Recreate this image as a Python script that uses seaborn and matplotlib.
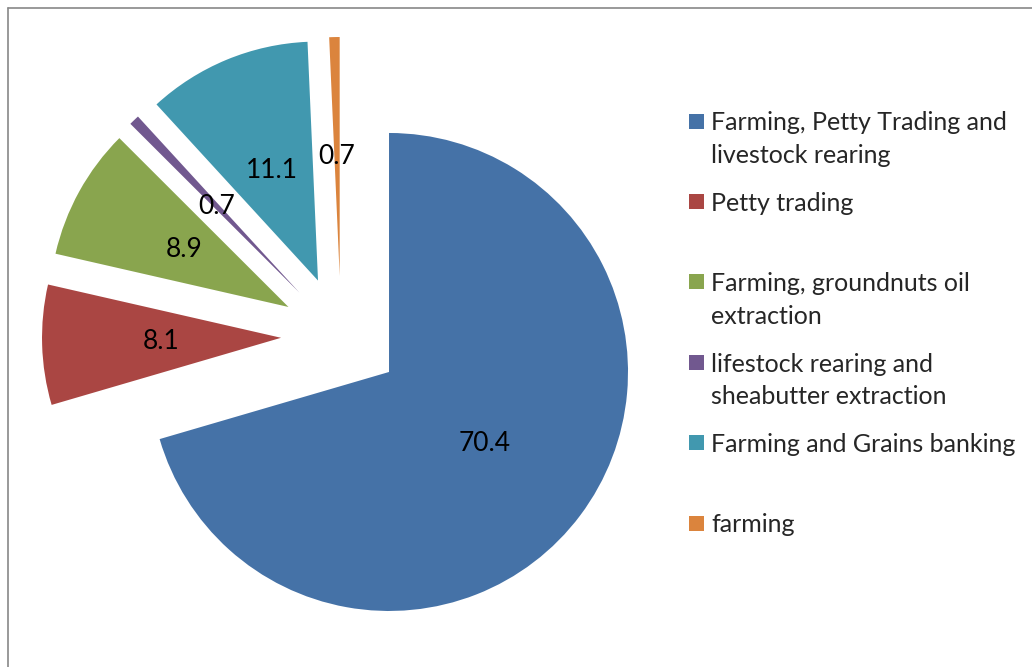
import matplotlib.pyplot as plt
import matplotlib.patches as mpatches
import seaborn as sns

# data
categories = [
    "Farming, Petty Trading and\nlivestock rearing",
    "Petty trading",
    "Farming, groundnuts oil\nextraction",
    "lifestock rearing and\nsheabutter extraction",
    "Farming and Grains banking",
    "farming",
]
values = [70.4, 8.1, 8.9, 0.7, 11.1, 0.7]
colors = ["#4572A7", "#AA4643", "#89A54E", "#71588F", "#4198AF", "#DB843D"]

sns.set_style("white")
plt.rcParams["font.family"] = ["Lato", "DejaVu Sans"]

W, H = 1032, 667
fig = plt.figure(figsize=(W / 100, H / 100), dpi=100)
ax = fig.add_axes([0, 0, 1, 1])

total = sum(values)
ax.pie(
    values,
    colors=colors,
    startangle=90,
    counterclock=False,
    center=(341, H - 336),
    radius=239,
    explode=[60] * len(values),
    autopct=lambda p: f"{p * total / 100:.1f}",
    pctdistance=0.5,
    wedgeprops=dict(linewidth=0),
    textprops=dict(fontsize=19, color="black"),
)
ax.set_xlim(0, W)
ax.set_ylim(0, H)
ax.set_aspect("equal")
ax.axis("off")

# legend drawn by hand (Excel style spacing)
for i, (lab, col) in enumerate(zip(categories, colors)):
    yc = 121 + 80.4 * i
    ax.add_patch(mpatches.Rectangle((689, H - yc - 7.5), 15, 15, color=col, lw=0))
    for j, line in enumerate(lab.split("\n")):
        ax.text(711, H - yc - 32.5 * j, line, fontsize=18, va="center_baseline", ha="left")

# chart frame (top and left edges visible)
fig.add_artist(plt.Line2D([8 / W, 1], [1 - 8 / H, 1 - 8 / H], color="#888888", lw=1.2))
fig.add_artist(plt.Line2D([8 / W, 8 / W], [0, 1 - 8 / H], color="#888888", lw=1.2))

fig.savefig("out.png", dpi=100)
